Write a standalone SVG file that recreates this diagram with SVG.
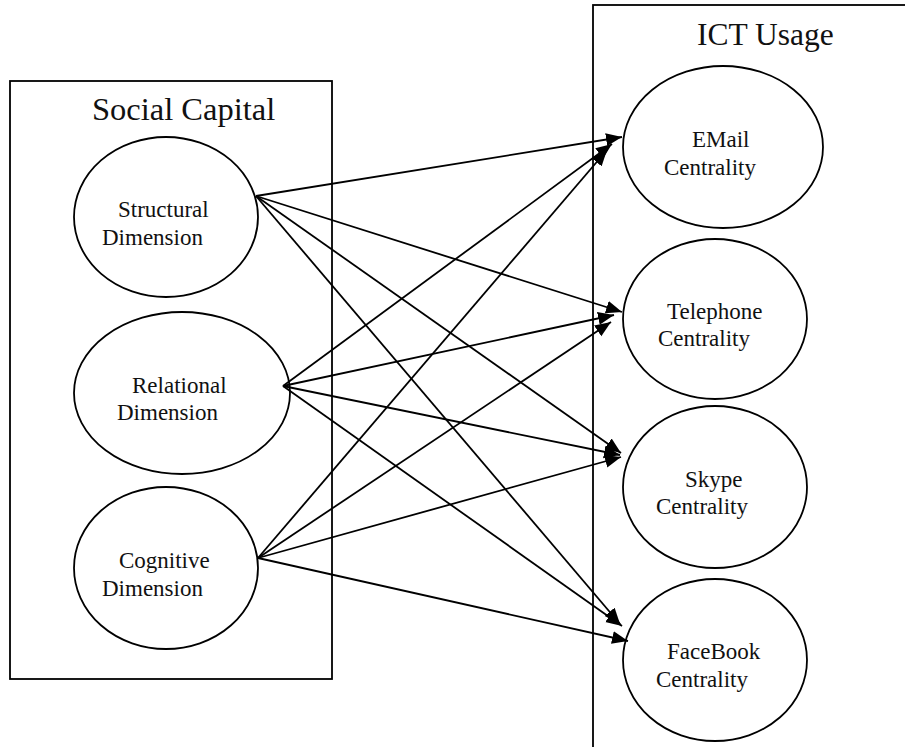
<svg xmlns="http://www.w3.org/2000/svg" width="905" height="747" viewBox="0 0 905 747">
  <style>
    .box { fill: none; stroke: #000; stroke-width: 1.8; }
    .node ellipse { fill: #fff; stroke: #000; stroke-width: 1.8; }
    .lbl { font-family: "Liberation Serif", "Times New Roman", serif; font-size: 23px; fill: #111; }
    .title { font-family: "Liberation Serif", "Times New Roman", serif; fill: #111; }
    .edge { stroke: #000; stroke-width: 1.8; fill: none; marker-end: url(#head); }
  </style>
  <defs>
    <marker id="head" markerUnits="userSpaceOnUse" markerWidth="18" markerHeight="14" refX="16" refY="6.5" orient="auto">
      <path d="M0,0 L16,6.5 L0,13 Z" fill="#000"/>
    </marker>
  </defs>

  <!-- container boxes -->
  <g id="social-capital">
    <rect class="box" x="10" y="81" width="322" height="598"/>
    <text class="title" x="92" y="120" font-size="32.5">Social Capital</text>
  </g>
  <g id="ict-usage">
    <rect class="box" x="593" y="5" width="400" height="800"/>
    <text class="title" x="697" y="45" font-size="31.5">ICT Usage</text>
  </g>

  <!-- source dimensions -->
  <g id="structural" class="node">
    <ellipse cx="166" cy="217" rx="92" ry="80"/>
    <text class="lbl" x="118" y="217">Structural</text>
    <text class="lbl" x="102" y="245">Dimension</text>
  </g>
  <g id="relational" class="node">
    <ellipse cx="182" cy="393" rx="108" ry="81"/>
    <text class="lbl" x="132" y="393">Relational</text>
    <text class="lbl" x="117" y="420">Dimension</text>
  </g>
  <g id="cognitive" class="node">
    <ellipse cx="166" cy="568" rx="92" ry="81"/>
    <text class="lbl" x="119" y="568">Cognitive</text>
    <text class="lbl" x="102" y="596">Dimension</text>
  </g>

  <!-- ICT channels -->
  <g id="email" class="node">
    <ellipse cx="723" cy="147" rx="100" ry="81"/>
    <text class="lbl" x="692" y="147">EMail</text>
    <text class="lbl" x="664" y="175">Centrality</text>
  </g>
  <g id="telephone" class="node">
    <ellipse cx="715" cy="319" rx="92" ry="80"/>
    <text class="lbl" x="667" y="319">Telephone</text>
    <text class="lbl" x="658" y="346">Centrality</text>
  </g>
  <g id="skype" class="node">
    <ellipse cx="715" cy="487" rx="92" ry="81"/>
    <text class="lbl" x="685" y="487">Skype</text>
    <text class="lbl" x="656" y="514">Centrality</text>
  </g>
  <g id="facebook" class="node">
    <ellipse cx="715" cy="660" rx="92" ry="81"/>
    <text class="lbl" x="667" y="659">FaceBook</text>
    <text class="lbl" x="656" y="687">Centrality</text>
  </g>

  <!-- connectors: every dimension to every channel -->
  <g id="connectors">
    <line class="edge" x1="256" y1="196" x2="622" y2="137"/>
    <line class="edge" x1="256" y1="196" x2="622" y2="312"/>
    <line class="edge" x1="256" y1="196" x2="621" y2="453"/>
    <line class="edge" x1="256" y1="196" x2="620" y2="624"/>

    <line class="edge" x1="283" y1="386" x2="612" y2="144"/>
    <line class="edge" x1="283" y1="386" x2="614" y2="315"/>
    <line class="edge" x1="283" y1="386" x2="620" y2="455"/>
    <line class="edge" x1="283" y1="386" x2="622" y2="626"/>

    <line class="edge" x1="258" y1="558" x2="607" y2="150"/>
    <line class="edge" x1="258" y1="558" x2="611" y2="322"/>
    <line class="edge" x1="258" y1="558" x2="621" y2="457"/>
    <line class="edge" x1="258" y1="558" x2="628" y2="641"/>
  </g>
</svg>
